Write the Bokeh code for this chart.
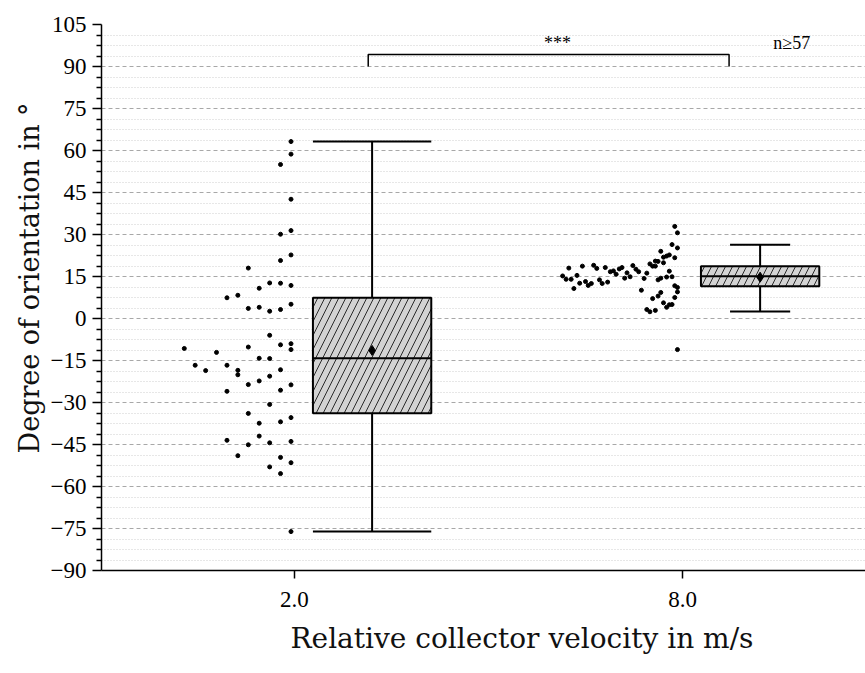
from bokeh.plotting import figure
from bokeh.models import FixedTicker, ColumnDataSource, Title
from bokeh.embed import file_html
from bokeh.resources import INLINE
from bokeh.core.properties import value

# ---------------- data ----------------
categories = ["2.0", "8.0"]
cat_pos = [1, 2]

# box statistics (degrees)
q1 = [-33.8, 11.5]
q3 = [7.4, 18.7]
median = [-14.2, 15.1]
mean = [-11.4, 14.75]
whisker_low = [-76.1, 2.5]
whisker_high = [63.2, 26.3]

# raw points: horizontal offset from category tick (data units) and value
left_dx = [-0.009, -0.009, -0.036, -0.009, -0.009, -0.036, -0.009, -0.036, -0.119, -0.064,
           -0.036, -0.009, -0.091, -0.146, -0.174, -0.009, -0.119, -0.091, -0.064, -0.036,
           -0.064, -0.284, -0.119, -0.036, -0.009, -0.009, -0.201, -0.091, -0.064, -0.256,
           -0.174, -0.229, -0.146, -0.146, -0.036, -0.064, -0.091, -0.119, -0.009, -0.174,
           -0.036, -0.064, -0.119, -0.009, -0.036, -0.091, -0.091, -0.174, -0.009, -0.119,
           -0.064, -0.146, -0.036, -0.009, -0.064, -0.036, -0.009]
left_y = [63.2, 58.7, 55.0, 42.6, 31.4, 30.1, 22.7, 20.7, 18.0, 12.7,
          12.6, 11.8, 10.8, 8.3, 7.4, 5.1, 3.6, 4.0, 2.6, 3.2,
          -6.0, -10.7, -10.2, -9.4, -9.0, -11.1, -12.1, -14.2, -14.3, -16.7,
          -16.7, -18.6, -18.5, -20.1, -18.3, -20.6, -22.3, -23.6, -23.7, -26.0,
          -25.6, -30.7, -33.9, -35.4, -36.9, -37.4, -42.0, -43.5, -43.9, -45.1,
          -44.4, -49.0, -49.6, -51.5, -53.0, -55.4, -76.1]

right_dx = [-0.020, -0.013, -0.027, -0.013, -0.056, -0.041, -0.034, -0.049, -0.020, -0.070,
            -0.063, -0.049, -0.084, -0.077, -0.070, -0.293, -0.258, -0.229, -0.221, -0.199,
            -0.186, -0.178, -0.163, -0.156, -0.128, -0.120, -0.113, -0.092, -0.171, -0.143,
            -0.135, -0.149, -0.034, -0.041, -0.027, -0.056, -0.063, -0.099, -0.309, -0.300,
            -0.287, -0.272, -0.280, -0.265, -0.250, -0.243, -0.235, -0.214, -0.207, -0.193,
            -0.020, -0.013, -0.013, -0.106, -0.020, -0.056, -0.063, -0.077, -0.027, -0.034,
            -0.049, -0.041, -0.092, -0.084, -0.070, -0.013]
right_y = [32.9, 30.6, 26.4, 25.2, 24.0, 22.3, 22.7, 21.9, 21.7, 20.5,
           20.4, 19.9, 19.5, 18.7, 18.7, 18.0, 18.7, 19.0, 17.9, 18.2,
           16.7, 17.0, 17.7, 18.2, 18.9, 17.6, 16.7, 16.2, 15.8, 16.3,
           14.9, 14.4, 16.9, 14.8, 14.9, 14.4, 13.8, 14.3, 15.2, 14.0,
           14.0, 15.4, 10.7, 12.6, 13.2, 11.8, 12.5, 13.8, 12.5, 13.0,
           11.7, 11.1, 9.5, 10.1, 7.5, 9.3, 8.0, 7.1, 5.0, 4.9,
           5.6, 4.0, 3.2, 2.4, 2.9, -11.1]

# significance bracket
sig_x = [1.19, 2.12]
sig_y_top = 94.3
sig_y_bottom = 90.0
sig_text = "***"
n_text = "n\u226557"

y_major = [-90, -75, -60, -45, -30, -15, 0, 15, 30, 45, 60, 75, 90, 105]

y_title = "Degree of orientation in \u00b0"
x_title = "Relative collector velocity in m/s"

# ---------------- layout / style ----------------
box_offset = 0.2
box_width = 0.305
cap_width = [0.305, 0.155]
TICK_FONT = "Liberation Serif"
TITLE_FONT = "DejaVu Serif"

p = figure(width=865, height=673, x_range=(0.5026, 2.4716), y_range=(-90, 105),
           output_backend="svg", toolbar_location=None,
           min_border_left=101, min_border_top=24, min_border_bottom=103, min_border_right=0)
p.outline_line_color = None
p.background_fill_color = "white"
p.border_fill_color = "white"

minor = []
for a in y_major[:-1]:
    for k in (1, 2, 3):
        minor.append(a + k * 3.75)

p.yaxis.ticker = FixedTicker(ticks=y_major, minor_ticks=minor)
p.yaxis.major_label_overrides = {v: (str(v).replace("-", "\u2212")) for v in y_major}
p.xaxis.ticker = FixedTicker(ticks=cat_pos, minor_ticks=[])
p.xaxis.major_label_overrides = {c: l for c, l in zip(cat_pos, categories)}

for ax in (p.xaxis, p.yaxis):
    ax.axis_line_color = "black"
    ax.axis_line_width = 1.5
    ax.major_tick_line_color = "black"
    ax.major_tick_line_width = 1.5
    ax.minor_tick_line_color = "black"
    ax.minor_tick_line_width = 1.5
    ax.major_tick_in = 0
    ax.minor_tick_in = 0
    ax.major_label_text_font = TICK_FONT
    ax.major_label_text_font_size = "23px"
    ax.major_label_text_color = "black"

p.yaxis.major_tick_out = 9
p.yaxis.minor_tick_out = 5
p.yaxis.major_label_standoff = 6

p.xaxis.major_tick_out = 8
p.xaxis.minor_tick_out = 0
p.xaxis.major_label_standoff = 13

p.xgrid.visible = False
p.ygrid.ticker = p.yaxis.ticker
p.ygrid.grid_line_color = "#a8a8a8"
p.ygrid.grid_line_dash = "4 3"
p.ygrid.grid_line_width = 1
p.ygrid.minor_grid_line_color = "#cfcfcf"
p.ygrid.minor_grid_line_dash = "1 2"
p.ygrid.minor_grid_line_width = 1

# axis titles placed in the side panels (outside the axes)
p.add_layout(Title(text=y_title, align="left", offset=117, vertical_align="middle",
                   standoff=3, text_font=TITLE_FONT, text_font_size="27px",
                   text_font_style="normal", text_color="#111111"), "left")
p.add_layout(Title(text=x_title, align="left", offset=189, vertical_align="bottom",
                   standoff=20, text_font=TITLE_FONT, text_font_size="28px",
                   text_font_style="normal", text_color="#111111"), "below")

# ---------------- boxes ----------------
bx = [c + box_offset for c in cat_pos]
src = ColumnDataSource(dict(
    x=bx, q1=q1, q3=q3, med=median, mean=mean, lo=whisker_low, hi=whisker_high,
    cap0=[x - w / 2 for x, w in zip(bx, cap_width)],
    cap1=[x + w / 2 for x, w in zip(bx, cap_width)],
    bl=[x - box_width / 2 for x in bx], br=[x + box_width / 2 for x in bx],
))

# whiskers
p.segment(x0="x", y0="q3", x1="x", y1="hi", source=src, line_color="black", line_width=2)
p.segment(x0="x", y0="q1", x1="x", y1="lo", source=src, line_color="black", line_width=2)
p.segment(x0="cap0", y0="hi", x1="cap1", y1="hi", source=src, line_color="black", line_width=2)
p.segment(x0="cap0", y0="lo", x1="cap1", y1="lo", source=src, line_color="black", line_width=2)

p.vbar(x="x", width=box_width, bottom="q1", top="q3", source=src,
       fill_color="#d3d3d3", line_color="black", line_width=2,
       hatch_pattern="/", hatch_color="black", hatch_scale=14, hatch_weight=0.8)
p.segment(x0="bl", y0="med", x1="br", y1="med", source=src, line_color="black", line_width=2)
p.scatter(x="x", y="mean", source=src, marker="diamond", size=10,
          fill_color="black", line_color="black")

# ---------------- raw points ----------------
p.scatter(x=[cat_pos[0] + d for d in left_dx], y=left_y, marker="circle", size=4,
          fill_color="black", line_color="black")
p.scatter(x=[cat_pos[1] + d for d in right_dx], y=right_y, marker="circle", size=4,
          fill_color="black", line_color="black")

# ---------------- significance ----------------
p.line(x=[sig_x[0], sig_x[0], sig_x[1], sig_x[1]],
       y=[sig_y_bottom, sig_y_top, sig_y_top, sig_y_bottom],
       line_color="black", line_width=1.5)
p.text(x=[1.678], y=[98.3], text=[sig_text], text_align="center",
       text_baseline="alphabetic", text_font=value(TICK_FONT), text_font_size="18px",
       text_color="black")
p.text(x=[2.234], y=[98.3], text=[n_text], text_align="left",
       text_baseline="alphabetic", text_font=value(TICK_FONT), text_font_size="18px",
       text_color="black")

open("out.html", "w").write(file_html(p, INLINE))
